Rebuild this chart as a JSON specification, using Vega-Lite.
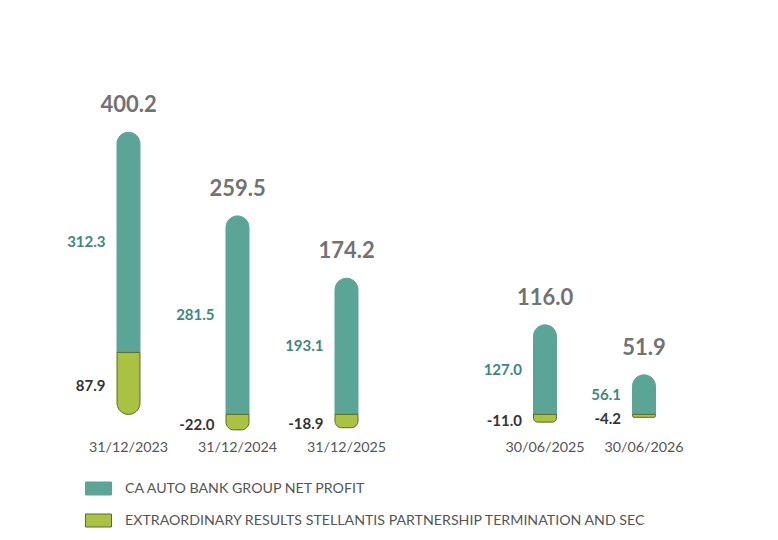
{
  "$schema": "https://vega.github.io/schema/vega-lite/v6.json",
  "background": "white",
  "padding": {"left": 67, "top": 76, "right": 0, "bottom": 0},
  "bounds": "flush",
  "spacing": 94.5,
  "config": {
    "view": {"stroke": null},
    "font": "Lato",
    "locale": {"number": {"decimal": ".", "thousands": ",", "grouping": [3], "currency": ["$", ""], "minus": "-"}}
  },
  "data": {
    "values": [
      {"date": "31/12/2023", "series": "CA AUTO BANK GROUP NET PROFIT", "value": 312.3},
      {"date": "31/12/2023", "series": "EXTRAORDINARY RESULTS STELLANTIS PARTNERSHIP TERMINATION AND SEC", "value": 87.9},
      {"date": "31/12/2024", "series": "CA AUTO BANK GROUP NET PROFIT", "value": 281.5},
      {"date": "31/12/2024", "series": "EXTRAORDINARY RESULTS STELLANTIS PARTNERSHIP TERMINATION AND SEC", "value": -22.0},
      {"date": "31/12/2025", "series": "CA AUTO BANK GROUP NET PROFIT", "value": 193.1},
      {"date": "31/12/2025", "series": "EXTRAORDINARY RESULTS STELLANTIS PARTNERSHIP TERMINATION AND SEC", "value": -18.9},
      {"date": "30/06/2025", "series": "CA AUTO BANK GROUP NET PROFIT", "value": 127.0},
      {"date": "30/06/2025", "series": "EXTRAORDINARY RESULTS STELLANTIS PARTNERSHIP TERMINATION AND SEC", "value": -11.0},
      {"date": "30/06/2026", "series": "CA AUTO BANK GROUP NET PROFIT", "value": 56.1},
      {"date": "30/06/2026", "series": "EXTRAORDINARY RESULTS STELLANTIS PARTNERSHIP TERMINATION AND SEC", "value": -4.2}
    ]
  },
  "transform": [
    {"stack": "value", "groupby": ["date"], "sort": [{"field": "series", "order": "descending"}], "as": ["y0", "y1"]},
    {"joinaggregate": [{"op": "sum", "field": "value", "as": "total"}], "groupby": ["date"]},
    {"calculate": "(datum.y0 + datum.y1) / 2", "as": "mid"}
  ],
  "hconcat": [
    {
      "width": 327,
      "height": 356,
      "transform": [{"filter": {"field": "date", "oneOf": ["31/12/2023", "31/12/2024", "31/12/2025"]}}],
      "encoding": {
        "x": {
          "field": "date",
          "type": "nominal",
          "scale": {"domain": ["31/12/2023", "31/12/2024", "31/12/2025"], "paddingInner": 0.789, "paddingOuter": 0.3945},
          "axis": {"title": null, "labelAngle": 0, "domain": false, "ticks": false, "grid": false, "labelPadding": 8, "labelFontSize": 14.3, "labelColor": "#555555", "labelFont": "Lato"}
        }
      },
      "layer": [
        {
          "transform": [{"filter": "datum.series == 'CA AUTO BANK GROUP NET PROFIT'"}],
          "mark": {"type": "bar", "cornerRadiusTopLeft": 11.5, "cornerRadiusTopRight": 11.5, "strokeWidth": 1},
          "encoding": {
            "y": {"field": "y0", "type": "quantitative", "scale": {"domain": [-25, 480], "nice": false, "zero": false}, "axis": null},
            "y2": {"field": "y1"},
            "color": {
              "field": "series", "type": "nominal",
              "scale": {"domain": ["CA AUTO BANK GROUP NET PROFIT", "EXTRAORDINARY RESULTS STELLANTIS PARTNERSHIP TERMINATION AND SEC"], "range": ["#5aa596", "#a9c23f"]},
              "legend": {"orient": "none", "legendX": 11, "legendY": 399, "direction": "vertical", "title": null, "symbolType": "M-1,-0.5H1V0.5H-1Z", "symbolSize": 676, "symbolStrokeWidth": 1, "symbolOpacity": 1, "labelFont": "Lato", "labelFontSize": 14.2, "labelColor": "#555555", "labelOffset": 13, "rowPadding": 10, "labelLimit": 800}
            },
            "stroke": {
              "field": "series", "type": "nominal",
              "scale": {"domain": ["CA AUTO BANK GROUP NET PROFIT", "EXTRAORDINARY RESULTS STELLANTIS PARTNERSHIP TERMINATION AND SEC"], "range": ["#5aa596", "#5a6b2a"]},
              "legend": {"orient": "none", "legendX": 11, "legendY": 399, "direction": "vertical", "title": null, "symbolType": "M-1,-0.5H1V0.5H-1Z", "symbolSize": 676, "symbolStrokeWidth": 1, "symbolOpacity": 1, "labelFont": "Lato", "labelFontSize": 14.2, "labelColor": "#555555", "labelOffset": 13, "rowPadding": 10, "labelLimit": 800}
            }
          }
        },
        {
          "transform": [{"filter": "datum.series != 'CA AUTO BANK GROUP NET PROFIT'"}],
          "mark": {"type": "bar", "cornerRadiusBottomLeft": 11.5, "cornerRadiusBottomRight": 11.5, "strokeWidth": 1},
          "encoding": {
            "y": {"field": "y0", "type": "quantitative", "scale": {"domain": [-25, 480], "nice": false, "zero": false}, "axis": null},
            "y2": {"field": "y1"},
            "color": {"field": "series", "type": "nominal"},
            "stroke": {"field": "series", "type": "nominal"}
          }
        },
        {
          "transform": [{"filter": "datum.series == 'CA AUTO BANK GROUP NET PROFIT'"}],
          "mark": {"type": "text", "font": "Lato", "fontSize": 22, "fontWeight": "bold", "color": "#727272", "baseline": "middle", "align": "center", "dy": -27},
          "encoding": {
            "y": {"field": "y1", "type": "quantitative", "scale": {"domain": [-25, 480], "nice": false, "zero": false}, "axis": null},
            "text": {"field": "total", "type": "quantitative", "format": ".1f"}
          }
        },
        {
          "transform": [{"filter": "datum.series == 'CA AUTO BANK GROUP NET PROFIT'"}],
          "mark": {"type": "text", "font": "Lato", "fontSize": 15, "fontWeight": "bold", "color": "#3a8a7c", "baseline": "middle", "align": "right", "dx": -23},
          "encoding": {
            "y": {"field": "mid", "type": "quantitative", "scale": {"domain": [-25, 480], "nice": false, "zero": false}, "axis": null},
            "text": {"field": "value", "type": "quantitative", "format": ".1f"}
          }
        },
        {
          "transform": [{"filter": "datum.series != 'CA AUTO BANK GROUP NET PROFIT'"}],
          "mark": {"type": "text", "font": "Lato", "fontSize": 15, "fontWeight": "bold", "color": "#333333", "baseline": "middle", "align": "right", "dx": -23, "dy": 3},
          "encoding": {
            "y": {"field": "mid", "type": "quantitative", "scale": {"domain": [-25, 480], "nice": false, "zero": false}, "axis": null},
            "text": {"field": "value", "type": "quantitative", "format": ".1f"}
          }
        }
      ]
    },
    {
      "width": 198,
      "height": 356,
      "transform": [{"filter": {"field": "date", "oneOf": ["30/06/2025", "30/06/2026"]}}],
      "encoding": {
        "x": {
          "field": "date",
          "type": "nominal",
          "scale": {"domain": ["30/06/2025", "30/06/2026"], "paddingInner": 0.768, "paddingOuter": 0.384},
          "axis": {"title": null, "labelAngle": 0, "domain": false, "ticks": false, "grid": false, "labelPadding": 8, "labelFontSize": 14.3, "labelColor": "#555555", "labelFont": "Lato"}
        }
      },
      "layer": [
        {
          "transform": [{"filter": "datum.series == 'CA AUTO BANK GROUP NET PROFIT'"}],
          "mark": {"type": "bar", "cornerRadiusTopLeft": 11.5, "cornerRadiusTopRight": 11.5, "strokeWidth": 1},
          "encoding": {
            "y": {"field": "y0", "type": "quantitative", "scale": {"domain": [-25, 480], "nice": false, "zero": false}, "axis": null},
            "y2": {"field": "y1"},
            "color": {"field": "series", "type": "nominal"},
            "stroke": {"field": "series", "type": "nominal"}
          }
        },
        {
          "transform": [{"filter": "datum.series != 'CA AUTO BANK GROUP NET PROFIT'"}],
          "mark": {"type": "bar", "cornerRadiusBottomLeft": 11.5, "cornerRadiusBottomRight": 11.5, "strokeWidth": 1},
          "encoding": {
            "y": {"field": "y0", "type": "quantitative", "scale": {"domain": [-25, 480], "nice": false, "zero": false}, "axis": null},
            "y2": {"field": "y1"},
            "color": {"field": "series", "type": "nominal"},
            "stroke": {"field": "series", "type": "nominal"}
          }
        },
        {
          "transform": [{"filter": "datum.series == 'CA AUTO BANK GROUP NET PROFIT'"}],
          "mark": {"type": "text", "font": "Lato", "fontSize": 22, "fontWeight": "bold", "color": "#727272", "baseline": "middle", "align": "center", "dy": -27},
          "encoding": {
            "y": {"field": "y1", "type": "quantitative", "scale": {"domain": [-25, 480], "nice": false, "zero": false}, "axis": null},
            "text": {"field": "total", "type": "quantitative", "format": ".1f"}
          }
        },
        {
          "transform": [{"filter": "datum.series == 'CA AUTO BANK GROUP NET PROFIT'"}],
          "mark": {"type": "text", "font": "Lato", "fontSize": 15, "fontWeight": "bold", "color": "#3a8a7c", "baseline": "middle", "align": "right", "dx": -23},
          "encoding": {
            "y": {"field": "mid", "type": "quantitative", "scale": {"domain": [-25, 480], "nice": false, "zero": false}, "axis": null},
            "text": {"field": "value", "type": "quantitative", "format": ".1f"}
          }
        },
        {
          "transform": [{"filter": "datum.series != 'CA AUTO BANK GROUP NET PROFIT'"}],
          "mark": {"type": "text", "font": "Lato", "fontSize": 15, "fontWeight": "bold", "color": "#333333", "baseline": "middle", "align": "right", "dx": -23, "dy": 3},
          "encoding": {
            "y": {"field": "mid", "type": "quantitative", "scale": {"domain": [-25, 480], "nice": false, "zero": false}, "axis": null},
            "text": {"field": "value", "type": "quantitative", "format": ".1f"}
          }
        }
      ]
    }
  ]
}
